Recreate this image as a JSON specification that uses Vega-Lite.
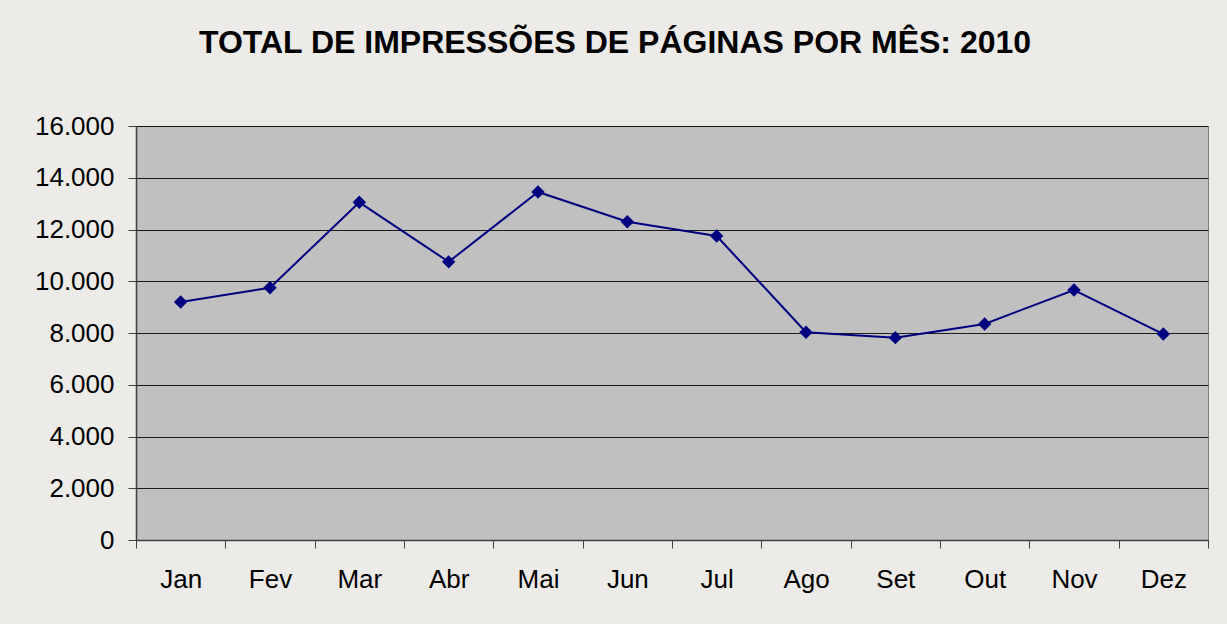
{
  "$schema": "https://vega.github.io/schema/vega-lite/v6.json",
  "autosize": "none",
  "width": 1072,
  "height": 414,
  "padding": {"left": 136, "top": 126, "right": 19, "bottom": 84},
  "background": "#ECEBE7",
  "title": {
    "text": "TOTAL DE IMPRESSÕES DE PÁGINAS POR MÊS: 2010",
    "font": "Liberation Sans",
    "fontSize": 32,
    "fontWeight": "bold",
    "color": "#000000",
    "anchor": "middle",
    "frame": "group",
    "dx": -57,
    "baseline": "alphabetic",
    "offset": 28
  },
  "data": {
    "values": [
      {"mes": "Jan", "total": 9200},
      {"mes": "Fev", "total": 9750},
      {"mes": "Mar", "total": 13050},
      {"mes": "Abr", "total": 10750},
      {"mes": "Mai", "total": 13450},
      {"mes": "Jun", "total": 12300},
      {"mes": "Jul", "total": 11750},
      {"mes": "Ago", "total": 8030},
      {"mes": "Set", "total": 7820},
      {"mes": "Out", "total": 8350},
      {"mes": "Nov", "total": 9660},
      {"mes": "Dez", "total": 7960}
    ]
  },
  "encoding": {
    "x": {
      "field": "mes",
      "type": "ordinal",
      "sort": null,
      "scale": {"type": "band", "paddingInner": 0, "paddingOuter": 0},
      "axis": {
        "title": null,
        "labelAngle": 0,
        "labelFont": "Liberation Sans",
        "labelFontSize": 26,
        "labelColor": "#000000",
        "labelPadding": 18,
        "tickBand": "extent",
        "tickSize": 8,
        "tickColor": "#404040",
        "domainColor": "#404040",
        "domainWidth": 1.5,
        "grid": false
      }
    },
    "y": {
      "field": "total",
      "type": "quantitative",
      "scale": {"domain": [0, 16000], "nice": false},
      "axis": {
        "title": null,
        "values": [0, 2000, 4000, 6000, 8000, 10000, 12000, 14000, 16000],
        "format": ",d",
        "labelFont": "Liberation Sans",
        "labelFontSize": 26,
        "labelColor": "#000000",
        "labelPadding": 14,
        "tickSize": 8,
        "tickColor": "#404040",
        "domainColor": "#404040",
        "domainWidth": 1.5,
        "grid": true,
        "gridColor": "#000000",
        "gridWidth": 1,
        "gridOpacity": 0.85
      }
    }
  },
  "layer": [
    {"mark": {"type": "line", "color": "#000080", "strokeWidth": 2}},
    {"mark": {"type": "point", "shape": "diamond", "filled": true, "color": "#000080", "size": 180, "opacity": 1}}
  ],
  "config": {
    "locale": {
      "number": {"decimal": ",", "thousands": ".", "grouping": [3], "currency": ["R$", ""]}
    },
    "view": {"fill": "#C0C0C0", "stroke": "#808080", "strokeWidth": 1}
  }
}
